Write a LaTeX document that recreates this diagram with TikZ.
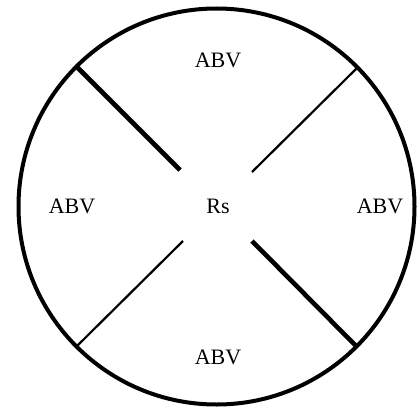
\documentclass[tikz,border=0pt]{standalone}
\usepackage{fontspec}
\setmainfont{Liberation Serif}
\begin{document}
\begin{tikzpicture}[x=1pt,y=-1pt,
  lbl/.style={font=\fontsize{22}{26}\selectfont, inner sep=0pt},
  thickline/.style={line width=4.6pt},
  thinline/.style={line width=2.2pt},
  rim/.style={line width=4pt}]
\useasboundingbox (0,0) rectangle (417,412);
\coordinate (c) at (216.5,206.5);
\draw[rim] (c) circle[radius=198];
\coordinate (ulo) at (77,67);   \coordinate (uli) at (180,170);
\coordinate (uro) at (357,68);  \coordinate (uri) at (252,172);
\coordinate (llo) at (77,346);  \coordinate (lli) at (183,241);
\coordinate (lro) at (357,347); \coordinate (lri) at (252,241);
\draw[thickline] (ulo) -- (uli);
\draw[thinline] (uro) -- (uri);
\draw[thinline] (llo) -- (lli);
\draw[thickline] (lro) -- (lri);
\node[lbl] (top) at (218,60) {ABV};
\node[lbl] (left) at (72,206) {ABV};
\node[lbl] (mid) at (218,206) {Rs};
\node[lbl] (right) at (380,206) {ABV};
\node[lbl] (bot) at (218,357) {ABV};
\end{tikzpicture}
\end{document}
